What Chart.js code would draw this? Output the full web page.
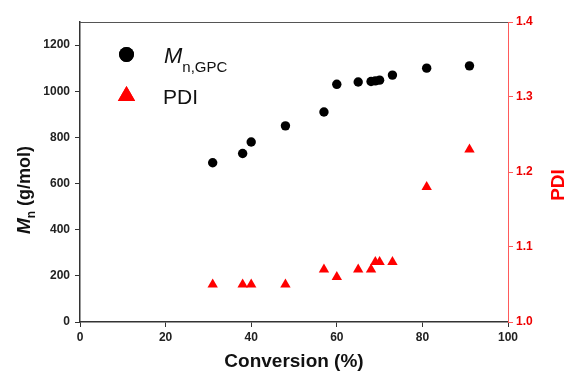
<!DOCTYPE html>
<html>
<head>
<meta charset="utf-8">
<script src="https://cdn.jsdelivr.net/npm/chart.js@4/dist/chart.umd.min.js"></script>
<style>
    html, body { margin: 0; padding: 0; background: #fff; }
    #wrap { width: 566px; height: 376px; }
</style>
</head>
<body>
<div id="wrap"><canvas id="chart" width="566" height="376"></canvas></div>
<script>
// Data
const conversion = [31, 38, 40, 48, 57, 60, 65, 68, 69, 70, 73, 81, 91];
const mnGpc = [690, 730, 780, 850, 910, 1030, 1040, 1042, 1045, 1048, 1070, 1100, 1110];
const pdi = [1.05, 1.05, 1.05, 1.05, 1.07, 1.06, 1.07, 1.07, 1.08, 1.08, 1.08, 1.18, 1.23];

const xTicks = [0, 20, 40, 60, 80, 100];
const leftTicks = [0, 200, 400, 600, 800, 1000, 1200];
const rightTicks = [1.0, 1.1, 1.2, 1.3, 1.4];

const FONT = '"Liberation Sans", Arial, sans-serif';
const AXIS_DARK = '#333';
const RED = '#ff0000';

const toPoints = (xs, ys) => xs.map((x, i) => ({ x, y: ys[i] }));

// draw a run of text pieces (normal / italic / subscript) starting at x
function drawRuns(ctx, runs, x, y) {
    let cx = x;
    runs.forEach(r => {
        ctx.font = r.font;
        ctx.fillText(r.text, cx, y + (r.dy || 0));
        cx += ctx.measureText(r.text).width;
    });
    return cx - x;
}

function runsWidth(ctx, runs) {
    return runs.reduce((w, r) => { ctx.font = r.font; return w + ctx.measureText(r.text).width; }, 0);
}

const decorations = {
    id: 'decorations',
    afterDraw(chart) {
        const { ctx, chartArea: a } = chart;
        ctx.save();

        // top frame line
        ctx.strokeStyle = '#555';
        ctx.lineWidth = 1;
        ctx.beginPath();
        ctx.moveTo(a.left, a.top + 0.5);
        ctx.lineTo(a.right, a.top + 0.5);
        ctx.stroke();

        ctx.textBaseline = 'alphabetic';
        ctx.textAlign = 'left';

        // x title
        ctx.fillStyle = '#111';
        ctx.font = 'bold 19px ' + FONT;
        ctx.textAlign = 'center';
        ctx.fillText('Conversion (%)', (a.left + a.right) / 2, 367);
        ctx.textAlign = 'left';

        // left title, rotated
        const leftRuns = [
            { text: 'M', font: 'italic bold 19px ' + FONT },
            { text: 'n', font: 'bold 12px ' + FONT, dy: 5 },
            { text: ' (g/mol)', font: 'bold 18px ' + FONT }
        ];
        ctx.save();
        ctx.translate(30, 190);
        ctx.rotate(-Math.PI / 2);
        drawRuns(ctx, leftRuns, -runsWidth(ctx, leftRuns) / 2, 0);
        ctx.restore();

        // right title, rotated
        ctx.save();
        ctx.fillStyle = RED;
        ctx.font = 'bold 19px ' + FONT;
        ctx.translate(564, 185);
        ctx.rotate(-Math.PI / 2);
        ctx.textAlign = 'center';
        ctx.fillText('PDI', 0, 0);
        ctx.restore();

        // legend
        Chart.helpers.drawPoint(ctx, { pointStyle: 'circle', radius: 7.5, rotation: 0 }, 126.5, 54.5);
        ctx.fillStyle = '#000';
        ctx.fill();
        ctx.fillStyle = '#111';
        drawRuns(ctx, [
            { text: 'M', font: 'italic 22px ' + FONT },
            { text: 'n,GPC', font: '15px ' + FONT, dy: 9 }
        ], 164, 63);

        ctx.fillStyle = RED;
        Chart.helpers.drawPoint(ctx, { pointStyle: 'triangle', radius: 10, rotation: 0 }, 126.5, 96);
        ctx.fill();
        ctx.fillStyle = '#111';
        ctx.font = '21px ' + FONT;
        ctx.fillText('PDI', 163, 104);

        ctx.restore();
    }
};

new Chart(document.getElementById('chart'), {
    type: 'scatter',
    data: {
        datasets: [
            {
                label: 'Mn,GPC',
                data: toPoints(conversion, mnGpc),
                yAxisID: 'y',
                pointStyle: 'circle',
                pointRadius: 4.7,
                pointHoverRadius: 4.7,
                backgroundColor: '#000',
                borderColor: '#000',
                borderWidth: 0
            },
            {
                label: 'PDI',
                data: toPoints(conversion, pdi),
                yAxisID: 'y2',
                pointStyle: 'triangle',
                pointRadius: 6,
                pointHoverRadius: 6,
                backgroundColor: RED,
                borderColor: RED,
                borderWidth: 0
            }
        ]
    },
    options: {
        responsive: false,
        animation: false,
        layout: { padding: { top: 22, left: 0, right: 0, bottom: 0 } },
        plugins: {
            legend: { display: false },
            tooltip: { enabled: false }
        },
        scales: {
            x: {
                type: 'linear',
                min: 0,
                max: 100,
                afterBuildTicks: s => { s.ticks = xTicks.map(v => ({ value: v })); },
                afterFit: s => { s.height = 54; },
                grid: { display: true, drawOnChartArea: false, drawTicks: true, tickLength: 5, color: AXIS_DARK },
                border: { display: true, color: AXIS_DARK, width: 1.5 },
                ticks: { color: '#222', padding: 3, font: { family: FONT, size: 12, weight: 'bold' }, callback: v => String(v) }
            },
            y: {
                type: 'linear',
                position: 'left',
                min: 0,
                max: 1300,
                afterBuildTicks: s => { s.ticks = leftTicks.map(v => ({ value: v })); },
                afterFit: s => { s.width = 80; },
                grid: { display: true, drawOnChartArea: false, drawTicks: true, tickLength: 5, color: AXIS_DARK },
                border: { display: true, color: AXIS_DARK, width: 1.5 },
                ticks: { color: '#222', padding: 5, font: { family: FONT, size: 12, weight: 'bold' }, callback: v => String(v) }
            },
            y2: {
                type: 'linear',
                position: 'right',
                min: 1.0,
                max: 1.4,
                afterBuildTicks: s => { s.ticks = rightTicks.map(v => ({ value: v })); },
                afterFit: s => { s.width = 58; },
                grid: { display: true, drawOnChartArea: false, drawTicks: true, tickLength: 5, color: '#ff5a5a' },
                border: { display: true, color: '#ff5a5a', width: 1 },
                ticks: {
                    color: '#e00',
                    padding: 3,
                    font: { family: FONT, size: 12, weight: 'bold' },
                    callback: v => v.toFixed(1)
                }
            }
        }
    },
    plugins: [decorations]
});
</script>
</body>
</html>
